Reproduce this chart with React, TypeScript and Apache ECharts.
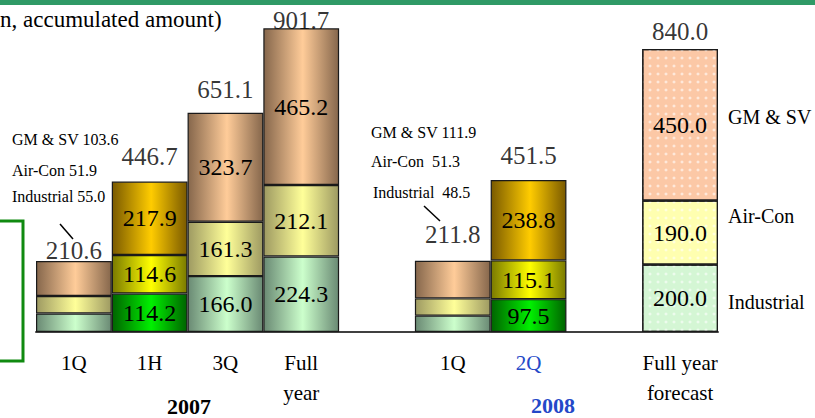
import React, { useEffect, useRef } from "react";
import * as echarts from "echarts";

const categories = ["1Q", "1H", "3Q", "Full\nyear", "", "1Q", "2Q", "", "Full year\nforecast"];
const industrial = [55.0, 114.2, 166.0, 224.3, null, 48.5, 97.5, null, 200.0];
const airCon = [51.9, 114.6, 161.3, 212.1, null, 51.3, 115.1, null, 190.0];
const gmSv = [103.6, 217.9, 323.7, 465.2, null, 111.9, 238.8, null, 450.0];
const totals = [210.6, 446.7, 651.1, 901.7, null, 211.8, 451.5, null, 840.0];
const showInside = [false, true, true, true, false, false, true, false, true];
const barKind = ["normal", "bright", "normal", "normal", "", "normal", "bright", "", "forecast"];
const totalGap = [11, 25, 23, 8, 0, 26, 24, 0, 18];

const note2007 = ["GM & SV 103.6", "Air-Con 51.9", "Industrial 55.0"];
const note2008 = ["GM & SV 111.9", "Air-Con  51.3", "Industrial  48.5"];
const sideLabels = ["GM & SV", "Air-Con", "Industrial"];

const FONT = '"Liberation Serif", "Times New Roman", serif';

const grad = (edge: string, mid: string) => ({
  type: "linear", x: 0, y: 0, x2: 1, y2: 0,
  colorStops: [
    { offset: 0, color: edge },
    { offset: 0.52, color: mid },
    { offset: 1, color: edge },
  ],
});

const palette: Record<string, Record<string, any>> = {
  normal: {
    ind: grad("#6a8a74", "#ccffcc"),
    air: grad("#9e9a62", "#ffff99"),
    gm: grad("#86674c", "#ffcc99"),
  },
  bright: {
    ind: grad("#006400", "#00f000"),
    air: grad("#7a7a00", "#ffff00"),
    gm: grad("#7a5a00", "#ffcc00"),
  },
  forecast: {
    ind: "#d4f6d4",
    air: "#ffffb0",
    gm: "#fcc8a6",
  },
};

function buildSeries(name: string, key: string, values: (number | null)[]) {
  return {
    name,
    type: "bar",
    stack: "total",
    barWidth: "100%",
    barCategoryGap: "0%",
    data: values.map((v, i) => {
      const kind = barKind[i];
      if (v === null) return null;
      const item: any = {
        value: v,
        itemStyle: {
          color: palette[kind][key],
          borderColor: "#1a1a1a",
          borderWidth: 1.2,
        },
        label: { show: showInside[i] },
      };
      if (kind === "forecast") {
        item.itemStyle.decal = {
          symbol: "diamond",
          symbolSize: 0.9,
          dashArrayX: 4,
          dashArrayY: 4,
          color: "rgba(255,255,255,0.6)",
        };
      }
      return item;
    }),
    label: {
      position: "inside",
      fontFamily: FONT,
      fontSize: 24,
      color: "#000",
      formatter: (p: any) => Number(p.value).toFixed(1),
    },
  };
}

export default function App() {
  const ref = useRef<HTMLDivElement>(null);
  useEffect(() => {
    if (!ref.current) return;
    const chart = echarts.init(ref.current, null, { renderer: "svg" });
    const textEl = (text: string, x: number, y: number, size: number, extra: any = {}) => ({
      type: "text",
      style: {
        text,
        x,
        y,
        fill: extra.fill || "#000",
        font: `${extra.bold ? "bold " : ""}${size}px ${FONT}`,
        align: extra.align || "left",
        verticalAlign: "middle",
      },
    });
    const option: any = {
      animation: false,
      backgroundColor: "#fff",
      grid: { left: 36, right: 97, top: 12, bottom: 86 },
      xAxis: {
        type: "category",
        data: categories.map((c, i) =>
          i === 6 ? { value: c, textStyle: { color: "#2448c8" } } : c
        ),
        axisTick: { show: false },
        axisLine: { lineStyle: { color: "#404040", width: 2 } },
        axisLabel: {
          interval: 0,
          margin: 16,
          fontFamily: FONT,
          fontSize: 21,
          lineHeight: 30,
          color: "#000",
          verticalAlign: "top",
        },
      },
      yAxis: {
        type: "value",
        min: 0,
        max: 950,
        show: false,
        splitLine: { show: false },
      },
      series: [
        buildSeries("Industrial", "ind", industrial),
        buildSeries("Air-Con", "air", airCon),
        buildSeries("GM & SV", "gm", gmSv),
        {
          name: "Total",
          type: "scatter",
          symbolSize: 0,
          silent: true,
          data: totals
            .map((t, i) =>
              t === null
                ? null
                : { value: [i, t], label: { offset: [0, -totalGap[i]] } }
            )
            .filter((d) => d !== null),
          label: {
            show: true,
            position: "inside",
            fontFamily: FONT,
            fontSize: 25,
            color: "#000",
            formatter: (p: any) => Number(p.value[1]).toFixed(1),
          },
        },
      ],
      graphic: [
        { type: "rect", shape: { x: 0, y: 0, width: 815, height: 5 }, style: { fill: "#2f9a66" } },
        textEl("n, accumulated amount)", 0, 19, 23),
        {
          type: "polyline",
          shape: { points: [[0, 221], [23, 221], [23, 361], [0, 361]] },
          style: { stroke: "#108a10", lineWidth: 3, fill: null },
        },
        textEl(note2007[0], 12, 139, 16),
        textEl(note2007[1], 12, 170, 16),
        textEl(note2007[2], 12, 196, 16),
        { type: "line", shape: { x1: 60, y1: 224, x2: 73, y2: 239 }, style: { stroke: "#000", lineWidth: 1.5 } },
        textEl(note2008[0], 371, 132, 16),
        textEl(note2008[1], 371, 161, 16),
        textEl(note2008[2], 373, 192, 16),
        { type: "line", shape: { x1: 424, y1: 206, x2: 440, y2: 221 }, style: { stroke: "#000", lineWidth: 1.5 } },
        textEl(sideLabels[0], 728, 117, 20),
        textEl(sideLabels[1], 728, 216, 20),
        textEl(sideLabels[2], 728, 302, 20),
        textEl("2007", 189, 406, 22, { bold: true, align: "center" }),
        textEl("2008", 553, 405, 22, { bold: true, align: "center", fill: "#2448c8" }),
      ],
    };
    chart.setOption(option);
    return () => chart.dispose();
  }, []);
  return (
    <div
      ref={ref}
      style={{ position: "fixed", left: 0, top: 0, width: 815, height: 418 }}
    />
  );
}
